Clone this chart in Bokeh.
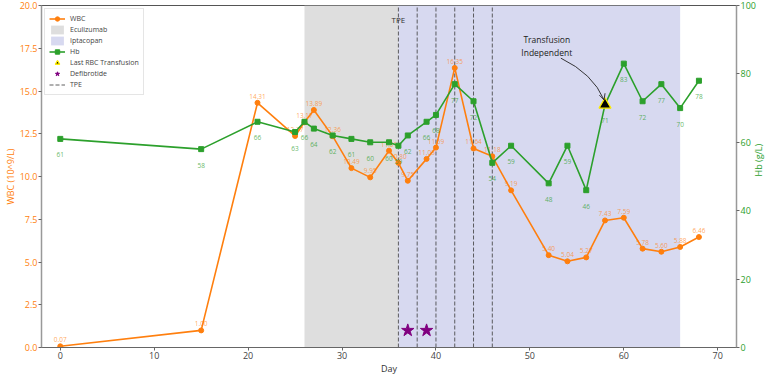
import math
from bokeh.plotting import figure
from bokeh.models import (Range1d, LinearAxis, FixedTicker, PrintfTickFormatter, Legend, LegendItem,
                          Label, Arrow, OpenHead)
from bokeh.core.properties import value
from bokeh.embed import file_html
from bokeh.resources import INLINE

FONT = "Open Sans"

# ---------------- data ----------------
wbc_days = [0, 15, 21, 25, 26, 27, 29, 31, 33, 35, 36, 37, 39, 40, 42, 44, 46, 48, 52, 54, 56, 58, 60, 62, 64, 66, 68]
wbc_vals = [0.07, 1.00, 14.31, 12.37, 13.17, 13.89, 12.36, 10.49, 9.95, 11.51, 10.80, 9.75, 11.03, 11.69, 16.35,
            11.64, 11.18, 9.19, 5.40, 5.04, 5.27, 7.43, 7.59, 5.78, 5.60, 5.88, 6.46]

hb_days = [0, 15, 21, 25, 26, 27, 29, 31, 33, 35, 36, 37, 39, 40, 42, 44, 46, 48, 52, 54, 56, 58, 60, 62, 64, 66, 68]
hb_vals = [61, 58, 66, 63, 66, 64, 62, 61, 60, 60, 59, 62, 66, 68, 77, 72, 54, 59, 48, 59, 46, 71, 83, 72, 77, 70, 78]

ecu_start, ecu_end = [26], [36]
ipt_start, ipt_end = [36], [66]
tpe_days = [36, 38, 40, 42, 44, 46]
defib_days = [37, 39]
defib_level = [1.0, 1.0]
last_rbc_day = [58]
last_rbc_hb = [71]

x_ticks = [0, 10, 20, 30, 40, 50, 60, 70]
wbc_ticks = [0, 2.5, 5, 7.5, 10, 12.5, 15, 17.5, 20]
hb_ticks = [0, 20, 40, 60, 80, 100]

ORANGE = "#ff7f0e"
GREEN = "#2ca02c"

p = figure(width=774, height=377, output_backend="svg", toolbar_location=None,
           x_range=Range1d(-2, 72), y_range=Range1d(0, 20),
           min_border_left=28, min_border_right=24, min_border_top=5, min_border_bottom=20)
p.extra_y_ranges = {"hb": Range1d(0, 100)}
p.xgrid.visible = False
p.ygrid.visible = False
p.outline_line_color = "#555555"
p.background_fill_color = "white"

# spans
r_ecu = p.quad(left=ecu_start, right=ecu_end, bottom=[0], top=[20], fill_color="#dedede", line_color=None)
r_ipt = p.quad(left=ipt_start, right=ipt_end, bottom=[0], top=[20], fill_color="#d7d9f0", line_color=None)

# TPE lines
r_tpe = p.segment(x0=tpe_days, x1=tpe_days, y0=[0] * len(tpe_days), y1=[20] * len(tpe_days),
                  line_color="#444444", line_dash="4 2", line_width=1, line_alpha=0.85)
p.add_layout(Label(x=tpe_days[0], y=19.2, text="TPE", text_align="center", text_baseline="middle",
                   text_font_size="8px", text_color="#333333", text_font=FONT))

# WBC
r_wl = p.line(wbc_days, wbc_vals, line_color=ORANGE, line_width=1.6)
r_wc = p.scatter(wbc_days, wbc_vals, marker="circle", size=5, fill_color=ORANGE, line_color=ORANGE)
p.text(x=wbc_days, y=wbc_vals, text=[f"{v:.2f}" for v in wbc_vals], text_align="center",
       text_baseline="bottom", y_offset=-4, text_font_size="6.5px", text_color=ORANGE, text_alpha=0.7,
       text_font=value(FONT))

# Hb
r_hl = p.line(hb_days, hb_vals, line_color=GREEN, line_width=1.6, y_range_name="hb")
r_hs = p.scatter(hb_days, hb_vals, marker="square", size=5, fill_color=GREEN, line_color=GREEN, y_range_name="hb")
p.text(x=hb_days, y=hb_vals, text=[str(v) for v in hb_vals], text_align="center",
       text_baseline="middle", y_offset=16, text_font_size="6.5px", text_color=GREEN, text_alpha=0.75,
       text_font=value(FONT), y_range_name="hb")

# markers
r_tri = p.scatter(last_rbc_day, last_rbc_hb, marker="triangle", size=12, fill_color="black",
                  line_color="#ffee00", line_width=1.3, y_range_name="hb")
r_star = p.scatter(defib_days, defib_level, marker="star", size=13, fill_color="purple", line_color="purple")

# annotation
ANN_X, ANN_Y = 51.8, 88.2
ARR_S = (53.3, 84.6)
ARR_C = (56.7, 80.1)
ARR_E = (57.9, 72.4)
p.add_layout(Label(x=ANN_X, y=ANN_Y, y_range_name="hb", text="Transfusion\nIndependent", text_align="center",
                   text_baseline="middle", text_font_size="8.5px", text_color="#222222", text_font=FONT))
p.quadratic(x0=[ARR_S[0]], y0=[ARR_S[1]], x1=[ARR_E[0]], y1=[ARR_E[1]], cx=[ARR_C[0]], cy=[ARR_C[1]],
            line_color="#222222", line_width=0.9, y_range_name="hb")
p.add_layout(Arrow(x_start=ARR_E[0] - 0.12, y_start=ARR_E[1] + 1.0, x_end=ARR_E[0], y_end=ARR_E[1],
                   y_range_name="hb", line_alpha=0,
                   end=OpenHead(size=6, line_color="#222222", line_width=0.9)))

# axes
p.xaxis.ticker = FixedTicker(ticks=x_ticks)
p.xaxis.axis_label = "Day"
p.yaxis.ticker = FixedTicker(ticks=wbc_ticks)
p.yaxis.formatter = PrintfTickFormatter(format="%.1f")
p.yaxis.axis_label = "WBC (10^9/L)"
p.yaxis.axis_label_text_color = ORANGE
p.yaxis.major_label_text_color = ORANGE
p.yaxis.axis_line_color = "#999999"
p.yaxis.axis_line_width = 1.5
p.xaxis.axis_line_color = "#666666"
p.xaxis.major_label_text_color = "#444444"
p.xaxis.axis_label_text_color = "#333333"

ra = LinearAxis(y_range_name="hb", ticker=FixedTicker(ticks=hb_ticks), axis_label="Hb (g/L)")
ra.axis_label_text_color = GREEN
ra.major_label_text_color = GREEN
ra.axis_line_color = "#999999"
ra.axis_line_width = 1.5
ra.axis_label_orientation = math.pi / 2
p.add_layout(ra, "right")

for ax in [p.xaxis[0], p.yaxis[0], ra]:
    ax.major_label_text_font = FONT
    ax.axis_label_text_font = FONT
    ax.major_label_text_font_size = "9px"
    ax.axis_label_text_font_size = "9px"
    ax.axis_label_text_font_style = "normal"
    ax.minor_tick_line_color = None
    ax.major_tick_out = 3
    ax.major_tick_in = 0
    ax.major_label_standoff = 1
    ax.axis_label_standoff = 0
    ax.major_tick_line_color = "#666666"

legend = Legend(items=[
    LegendItem(label="WBC", renderers=[r_wl, r_wc]),
    LegendItem(label="Eculizumab", renderers=[r_ecu]),
    LegendItem(label="Iptacopan", renderers=[r_ipt]),
    LegendItem(label="Hb", renderers=[r_hl, r_hs]),
    LegendItem(label="Last RBC Transfusion", renderers=[r_tri]),
    LegendItem(label="Defibrotide", renderers=[r_star]),
    LegendItem(label="TPE", renderers=[r_tpe]),
], location="top_left")
legend.label_text_font = FONT
legend.label_text_font_size = "7px"
legend.label_height = 11
legend.glyph_height = 11
legend.glyph_width = 16
legend.spacing = 0
legend.padding = 4
legend.margin = 3
legend.label_standoff = 5
legend.border_line_color = "#cccccc"
legend.background_fill_alpha = 0.85
p.add_layout(legend)

open("out.html", "w").write(file_html(p, INLINE))
